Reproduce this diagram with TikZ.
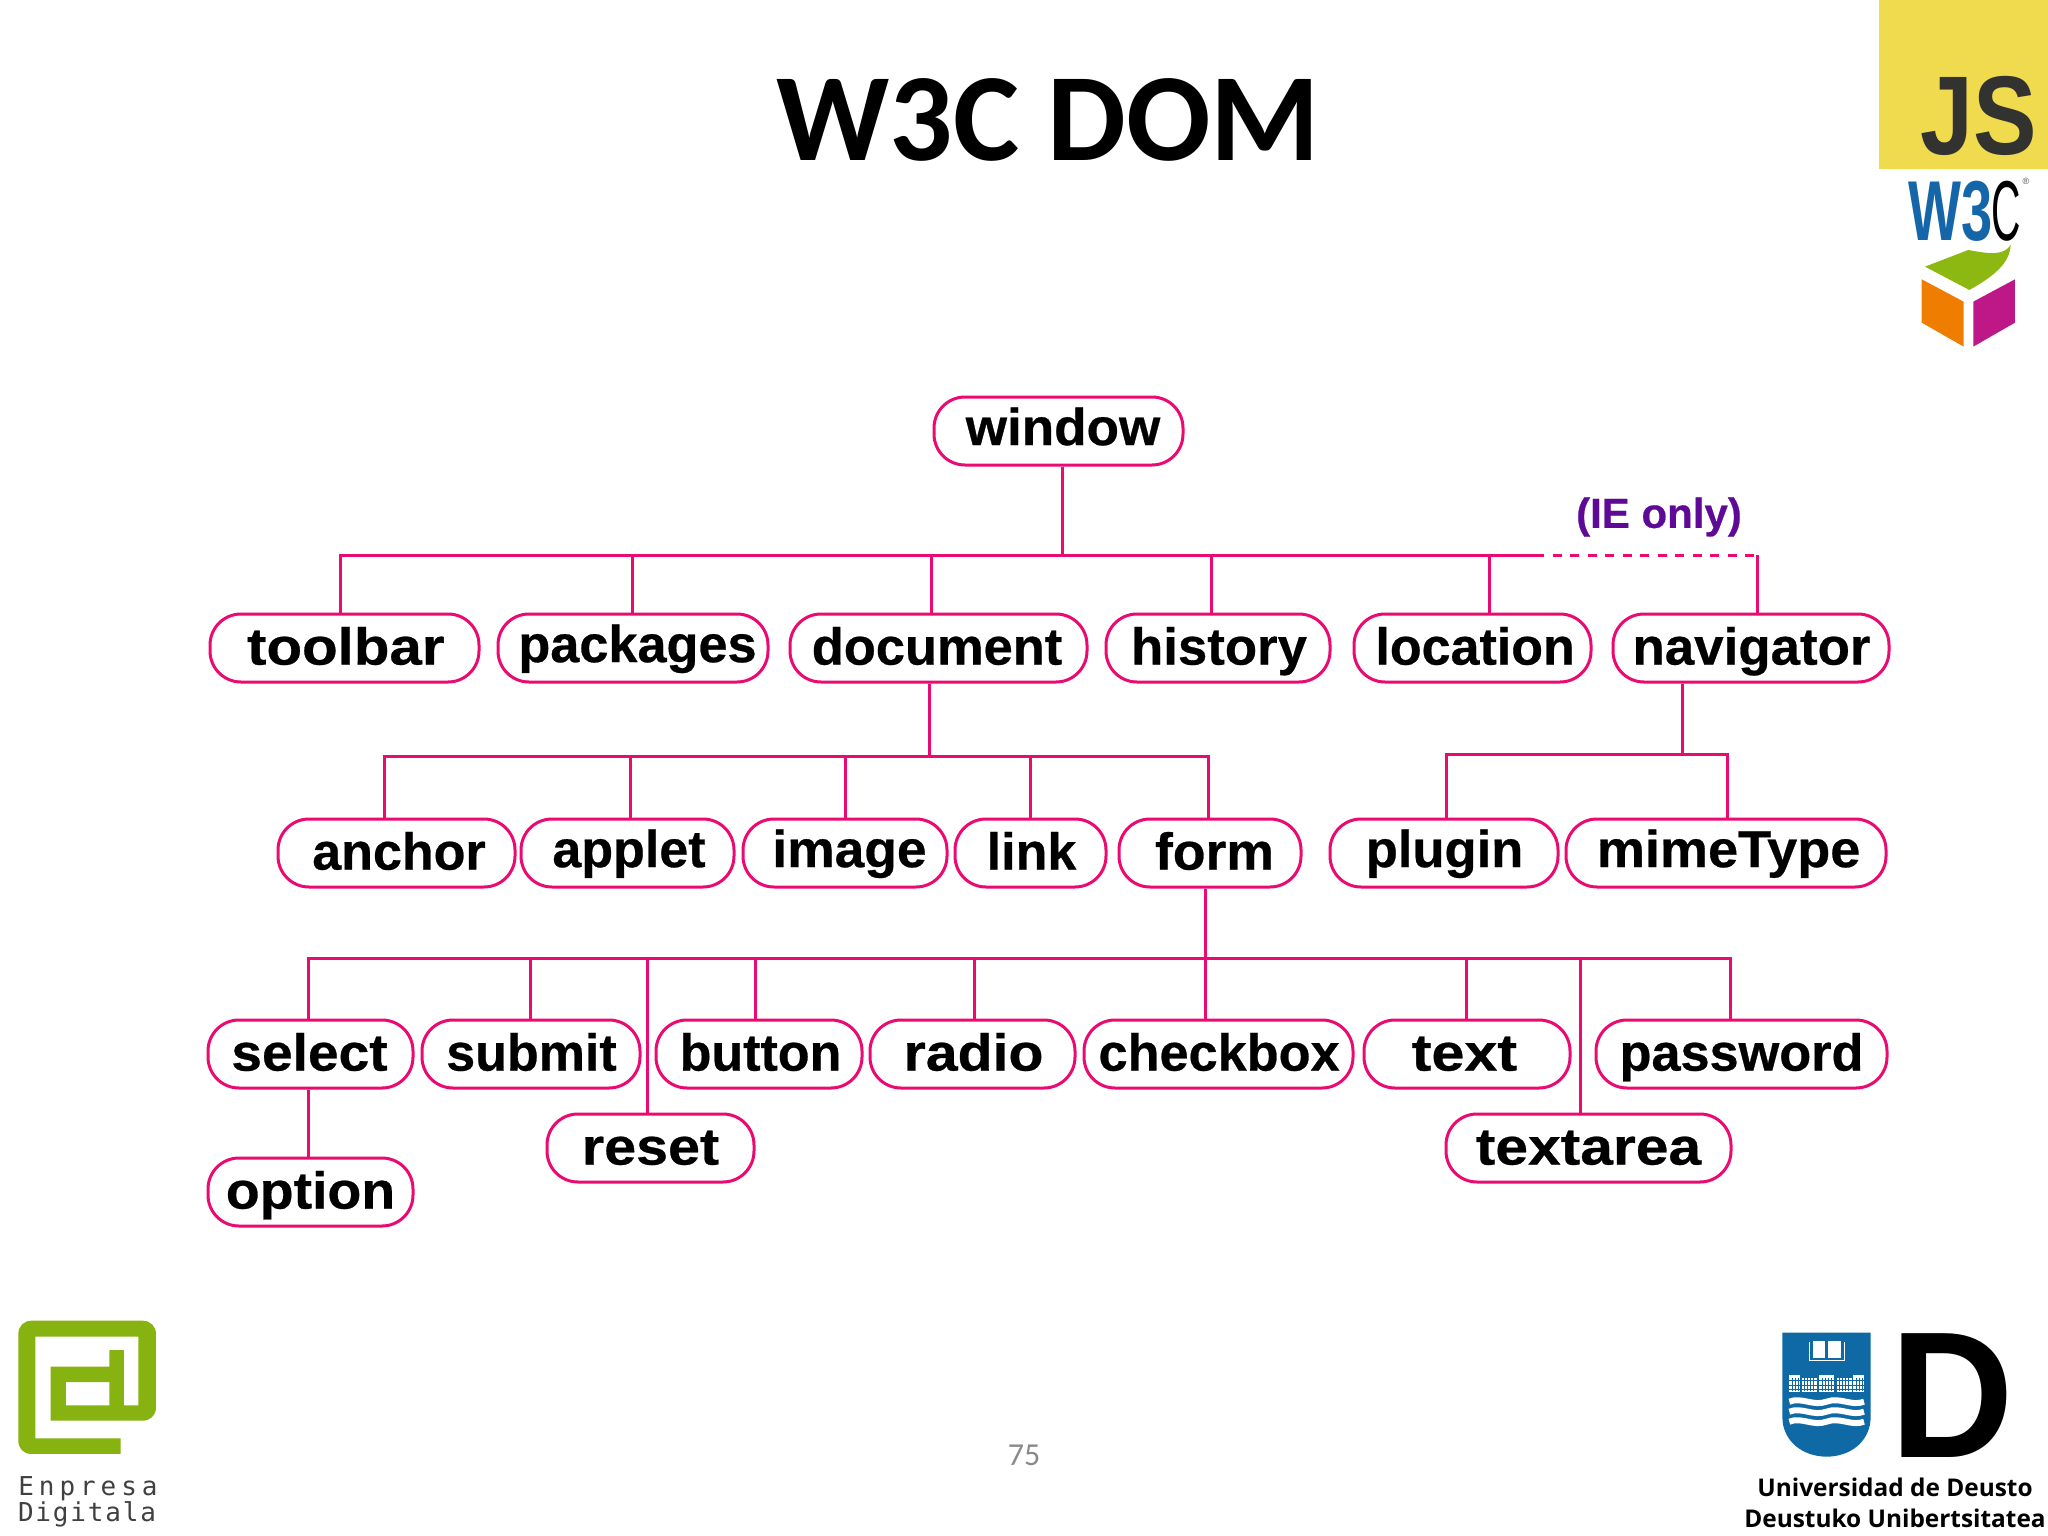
\documentclass[tikz,border=0pt]{standalone}
\usepackage{fontspec}
\usepackage{graphicx}
\setmainfont{Liberation Sans}
\newfontfamily\pixfont[BoldFeatures={FakeBold=0.5}]{Liberation Sans}
\newfontfamily\carlito{Carlito}
\newfontfamily\opensans{Open Sans}
\newfontfamily\dmono{DejaVu Sans Mono}
\definecolor{pinkline}{HTML}{EA0A72}
\definecolor{iepurple}{HTML}{5E0A96}
\definecolor{jsyellow}{HTML}{F0DB4F}
\definecolor{jsdark}{HTML}{323330}
\definecolor{w3blue}{HTML}{1566A8}
\definecolor{edgreen}{HTML}{86B30F}
\definecolor{boxorange}{HTML}{EF7D00}
\definecolor{boxmagenta}{HTML}{BE1888}
\definecolor{boxgreen}{HTML}{8DB812}
\definecolor{deustoblue}{HTML}{0F69A4}
\definecolor{pagenum}{HTML}{8A8A8A}
% \lbl{x-stretch}{shift right in px}{text}
\newcommand{\lbl}[3]{\kern#2pt\scalebox{#1}[1]{#3}\kern-#2pt}
\tikzset{
  pill/.style={draw=pinkline,line width=3pt,rounded corners=31pt,fill=white,inner sep=0pt,
    minimum height=68pt,text=black,text height=40.6pt,text depth=7.4pt,
    font=\fontsize{52}{52}\selectfont\pixfont\bfseries},
  wire/.style={draw=pinkline,line width=3pt},
  dashwire/.style={draw=pinkline,line width=3pt,dash pattern=on 9pt off 8.5pt,dash phase=9pt},
}
\begin{document}
\begin{tikzpicture}[x=1pt,y=-1pt]
\useasboundingbox (0,0) rectangle (2048,1536);
\fill[white] (0,0) rectangle (2048,1536);
% title and page number
\node[inner sep=0pt,font=\fontsize{125}{125}\selectfont\carlito\bfseries] (title) at (1048.5,120) {W3C DOM};
\node[inner sep=0pt,text=pagenum,font=\fontsize{32}{32}\selectfont\carlito] (pagenr) at (1024,1455) {75};
% bus points
\coordinate (busA) at (1062,555);
\coordinate (busL) at (340,555);
\coordinate (busS) at (1544,555);
\coordinate (busR) at (1757,555);
\coordinate (d1) at (632,555);
\coordinate (d2) at (931,555);
\coordinate (d3) at (1211,555);
\coordinate (d4) at (1489,555);
\coordinate (docB) at (929,756);
\coordinate (e0) at (384,756);
\coordinate (e1) at (630,756);
\coordinate (e2) at (845,756);
\coordinate (e3) at (1030,756);
\coordinate (e4) at (1208,756);
\coordinate (navB) at (1682,754);
\coordinate (n0) at (1446,754);
\coordinate (n1) at (1727,754);
\coordinate (formB) at (1205,958);
\coordinate (f0) at (308,958);
\coordinate (f1) at (530,958);
\coordinate (f2) at (647,958);
\coordinate (f3) at (755,958);
\coordinate (f4) at (974,958);
\coordinate (f5) at (1466,958);
\coordinate (f6) at (1580,958);
\coordinate (f7) at (1730,958);
% nodes
\node[pill,minimum width=249pt] (window) at (1058.5,431) {\raisebox{2.5pt}{\lbl{1.02}{4.5}{window}}};
\node[pill,minimum width=269pt] (toolbar) at (344.5,648) {\lbl{1.12}{1.3}{toolbar}};
\node[pill,minimum width=270pt] (packages) at (633,648) {\raisebox{2.5pt}{\lbl{1.005}{4.5}{packages}}};
\node[pill,minimum width=297pt] (document) at (938.5,648) {\kern-1.5pt\scalebox{1.008}[1]{document}\kern1.5pt};
\node[pill,minimum width=224pt] (history) at (1218,648) {\lbl{1.015}{1}{history}};
\node[pill,minimum width=237pt] (location) at (1472.5,648) {\lbl{1.0}{2.6}{location}};
\node[pill,minimum width=276pt] (navigator) at (1751,648) {\lbl{1.017}{0.5}{navigator}};
\node[pill,minimum width=237pt] (anchor) at (396.5,853) {\lbl{1.0}{2.5}{anchor}};
\node[pill,minimum width=213pt] (applet) at (627.5,853) {\raisebox{2.5pt}{\lbl{1.0}{1.5}{applet}}};
\node[pill,minimum width=204pt] (image) at (845,853) {\raisebox{2.5pt}{\lbl{1.026}{4.5}{image}}};
\node[pill,minimum width=151pt] (link) at (1030.5,853) {\lbl{1.0}{1}{link}};
\node[pill,minimum width=182pt] (form) at (1210,853) {\lbl{1.03}{4.5}{form}};
\node[pill,minimum width=228pt] (plugin) at (1444,853) {\raisebox{2.5pt}{\lbl{1.01}{0.5}{plugin}}};
\node[pill,minimum width=320pt] (mimeType) at (1726,853) {\raisebox{2.5pt}{\lbl{1.04}{2.6}{mimeType}}};
\node[pill,minimum width=205pt] (select) at (310.5,1054) {\kern-1pt\scalebox{1.06}[1]{select}\kern1pt};
\node[pill,minimum width=218pt] (submit) at (531,1054) {\lbl{1.0}{0.5}{submit}};
\node[pill,minimum width=206pt] (button) at (759,1054) {\lbl{1.0}{1.5}{button}};
\node[pill,minimum width=205pt] (radio) at (972.5,1054) {\lbl{1.10}{1}{radio}};
\node[pill,minimum width=269pt] (checkbox) at (1218.5,1054) {\lbl{1.005}{0.6}{checkbox}};
\node[pill,minimum width=206pt] (text) at (1467,1054) {\kern-2.6pt\scalebox{1.14}[1]{text}\kern2.6pt};
\node[pill,minimum width=291pt] (password) at (1741.5,1054) {\lbl{1.005}{0}{password}};
\node[pill,minimum width=207pt] (reset) at (650.5,1148) {\lbl{1.105}{0}{reset}};
\node[pill,minimum width=285pt] (textarea) at (1588.5,1148) {\lbl{1.13}{0}{textarea}};
\node[pill,minimum width=205pt] (option) at (310.5,1192) {\lbl{1.066}{0}{option}};
\node[inner sep=0pt,text=iepurple,font=\fontsize{42}{42}\selectfont\pixfont\bfseries] (ieonly) at (1659,517) {(IE only)};
% connectors
\draw[wire] (busA |- window.south) -- (busA);
\draw[wire] (busL |- toolbar.north) -- (busL) -- (busS);
\draw[dashwire] (busS) -- (busR);
\draw[wire] (busR) -- (busR |- navigator.north);
\draw[wire] (d1) -- (d1 |- packages.north);
\draw[wire] (d2) -- (d2 |- document.north);
\draw[wire] (d3) -- (d3 |- history.north);
\draw[wire] (d4) -- (d4 |- location.north);
\draw[wire] (docB |- document.south) -- (docB);
\draw[wire] (e0 |- anchor.north) -- (e0) -- (e4) -- (e4 |- form.north);
\draw[wire] (e1) -- (e1 |- applet.north);
\draw[wire] (e2) -- (e2 |- image.north);
\draw[wire] (e3) -- (e3 |- link.north);
\draw[wire] (navB |- navigator.south) -- (navB);
\draw[wire] (n0 |- plugin.north) -- (n0) -- (n1) -- (n1 |- mimeType.north);
\draw[wire] (formB |- form.south) -- (formB |- checkbox.north);
\draw[wire] (f0 |- select.north) -- (f0) -- (f7) -- (f7 |- password.north);
\draw[wire] (f1) -- (f1 |- submit.north);
\draw[wire] (f2) -- (f2 |- reset.north);
\draw[wire] (f3) -- (f3 |- button.north);
\draw[wire] (f4) -- (f4 |- radio.north);
\draw[wire] (f5) -- (f5 |- text.north);
\draw[wire] (f6) -- (f6 |- textarea.north);
\draw[wire] (f0 |- select.south) -- (f0 |- option.north);
% JS logo
\fill[jsyellow] (1879,0) rectangle (2048,169);
\node[inner sep=0pt,anchor=base,text=jsdark,font=\fontsize{112}{112}\selectfont\bfseries] (jslogo) at (1979,155) {\scalebox{0.85}[1]{JS}};
% W3C logo
\node[inner sep=0pt,anchor=base,text=w3blue,font=\fontsize{85}{85}\selectfont\bfseries] (w3) at (1951,240) {\scalebox{0.66}[1]{W3}};
\node[inner sep=0pt,anchor=base,text=black,font=\fontsize{85}{85}\selectfont] (w3c) at (2006,240) {\scalebox{0.48}[1]{C}};
\node[inner sep=0pt,anchor=base,text=black!70,font=\fontsize{9}{9}\selectfont] (w3r) at (2026,184) {®};
% box logo
\begin{scope}[shift={(1780,0)},x=0.3333pt,y=-0.3333pt]
\fill[boxgreen] (435,800) -- (565,750) .. controls (620,760) and (670,770) .. (692,735) .. controls (690,790) and (640,830) .. (568,870) -- cycle;
\fill[boxorange] (425,838) -- (551,905) -- (551,1040) -- (425,968) -- cycle;
\fill[boxmagenta] (580,905) -- (705,838) -- (705,968) -- (580,1040) -- cycle;
\end{scope}
% Enpresa Digitala logo
\begin{scope}[shift={(0,1300)},x=0.3333pt,y=-0.3333pt]
\fill[edgreen,even odd rule] (362,462) -- (95,462) .. controls (70,462) and (55,445) .. (55,422) -- (55,102)
 .. controls (55,78) and (72,62) .. (95,62) -- (428,62) .. controls (452,62) and (468,80) .. (468,102)
 -- (468,322) .. controls (468,347) and (450,362) .. (428,362) -- (152,362) -- (152,200) -- (328,200)
 -- (328,150) -- (372,150) -- (372,316) -- (415,316) -- (415,110) -- (106,110) -- (106,415) -- (362,415) -- cycle
 (198,246) rectangle (328,316);
\end{scope}
\node[inner sep=0pt,text=black!75,text height=19pt,text depth=1pt,font=\fontsize{26}{26}\selectfont\dmono] (enpresa) at (88,1486) {\addfontfeature{LetterSpace=19}Enpresa};
\node[inner sep=0pt,text=black!75,text height=19pt,text depth=5pt,font=\fontsize{26}{26}\selectfont\dmono] (digitala) at (87,1514) {\addfontfeature{LetterSpace=7}Digitala};
% Deusto logo
\begin{scope}[shift={(1740,1310)},x=0.3333pt,y=-0.3333pt]
\fill[deustoblue] (127,68) -- (392,68) -- (392,320) .. controls (392,395) and (330,440) .. (260,440) .. controls (190,440) and (127,395) .. (127,320) -- cycle;
% book
\draw[white,line width=1pt] (208,97) -- (208,150) -- (312,150) -- (312,97);
\fill[white] (218,92) -- (256,92) -- (256,145) -- (218,145) -- cycle;
\fill[white] (264,92) -- (303,92) -- (303,145) -- (264,145) -- cycle;
% building
\fill[white] (148,195) rectangle (180,245);
\fill[white] (185,203) rectangle (230,245);
\fill[white] (237,195) rectangle (283,245);
\fill[white] (290,203) rectangle (335,245);
\fill[white] (340,195) rectangle (372,245);
\foreach \yy in {212,226,238}{\draw[deustoblue,line width=1pt] (148,\yy) -- (372,\yy);}
\foreach \xx in {157,166,175,194,203,212,221,246,255,264,273,299,308,317,326,349,358,367}{\draw[deustoblue,line width=1pt] (\xx,205) -- (\xx,243);}
% waves
\foreach \yy in {275,305,335}{
 \draw[white,line width=6pt] (148,\yy) .. controls (185,\yy-15) and (220,\yy+15) .. (260,\yy) .. controls (300,\yy-15) and (335,\yy+15) .. (372,\yy);
}
\end{scope}
\node[inner sep=0pt,anchor=base,text=black,font=\fontsize{180}{180}\selectfont\bfseries] (bigD) at (1952,1457) {\scalebox{0.95}[1]{D}};
\node[inner sep=0pt,text=black,text height=18pt,text depth=1pt,font=\fontsize{24.4}{25}\selectfont\opensans\bfseries] (ud1) at (1895,1488) {Universidad de Deusto};
\node[inner sep=0pt,text=black,text height=18pt,text depth=1pt,font=\fontsize{24.4}{25}\selectfont\opensans\bfseries] (ud2) at (1895,1519) {Deustuko Unibertsitatea};
\end{tikzpicture}
\end{document}
